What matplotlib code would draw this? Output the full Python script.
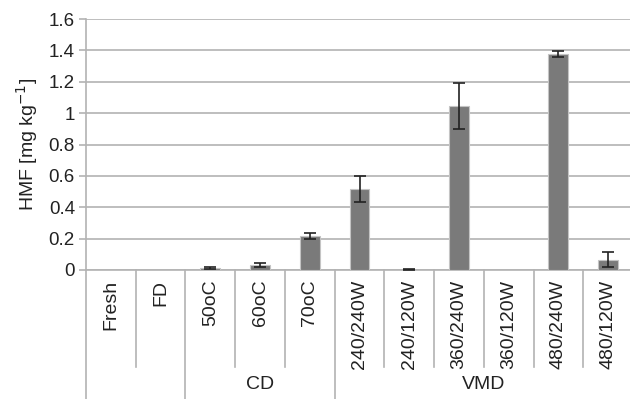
import matplotlib.pyplot as plt
from matplotlib.transforms import blended_transform_factory

plt.rcParams['font.family'] = ['Liberation Sans', 'DejaVu Sans']

# HMF content per drying method
samples = ['Fresh', 'FD', '50oC', '60oC', '70oC',
           '240/240W', '240/120W', '360/240W', '360/120W', '480/240W', '480/120W']
hmf = [0.001, 0.001, 0.012, 0.033, 0.215, 0.515, 0.002, 1.045, 0.001, 1.375, 0.066]
hmf_sd = [0.0, 0.0, 0.008, 0.012, 0.02, 0.082, 0.002, 0.148, 0.0, 0.02, 0.05]

# group captions below the sample names: (label, first index, last index)
groups = [('', 0, 1), ('CD', 2, 4), ('VMD', 5, 10)]

fig = plt.figure(figsize=(6.3, 3.99), dpi=100)
ax = fig.add_axes([86 / 630, 1 - 270 / 399, 547 / 630, 251 / 399])

x = list(range(len(samples)))
ax.bar(x, hmf, width=0.4, color='#7a7a7a', edgecolor='#c4c4c4', linewidth=0.8,
       zorder=3)

# error bars only where a deviation was measured
err_x = [i for i in x if hmf_sd[i] > 0]
ax.errorbar(err_x, [hmf[i] for i in err_x], yerr=[hmf_sd[i] for i in err_x],
            fmt='none', ecolor='#222222', elinewidth=1.2, capthick=1.2,
            capsize=4, zorder=4)

ax.set_ylim(0, 1.6)
ax.set_xlim(-0.5, len(samples) - 0.5)
ax.set_yticks([0, 0.2, 0.4, 0.6, 0.8, 1, 1.2, 1.4, 1.6])
ax.set_yticklabels(['0', '0.2', '0.4', '0.6', '0.8', '1', '1.2', '1.4', '1.6'])
ax.yaxis.grid(True, color='#b3b3b3', linewidth=1.2, zorder=0)
ax.set_axisbelow(True)

for side in ['top', 'right']:
    ax.spines[side].set_visible(False)
for side in ['left', 'bottom']:
    ax.spines[side].set_color('#b3b3b3')
    ax.spines[side].set_linewidth(1.2)

ax.tick_params(axis='y', length=5, color='#b3b3b3', width=1.2, labelsize=13.5,
               labelcolor='#222222', pad=3)
ax.set_xticks(x)
ax.set_xticklabels(samples, rotation=90, va='top', fontsize=14, color='#222222')
ax.tick_params(axis='x', length=0, pad=7)

ax.set_ylabel('HMF [mg kg$^{-1}$]', fontsize=14, color='#222222', labelpad=6)

# category separators under the axis
trans = blended_transform_factory(ax.transData, ax.transAxes)
group_starts = [g[1] for g in groups]
for i in range(1, len(samples) + 1):
    bottom = -0.52 if i in group_starts else -0.386
    ax.plot([i - 0.5, i - 0.5], [0, bottom], color='#b3b3b3', lw=1.2,
            transform=trans, clip_on=False)
ax.plot([-0.5, -0.5], [0, -0.52], color='#b3b3b3', lw=1.2,
        transform=trans, clip_on=False)

for label, first, last in groups:
    if label:
        ax.text((first + last) / 2, -0.455, label, transform=trans,
                ha='center', va='center', fontsize=14, color='#222222')

fig.savefig('out.png', dpi=100)
